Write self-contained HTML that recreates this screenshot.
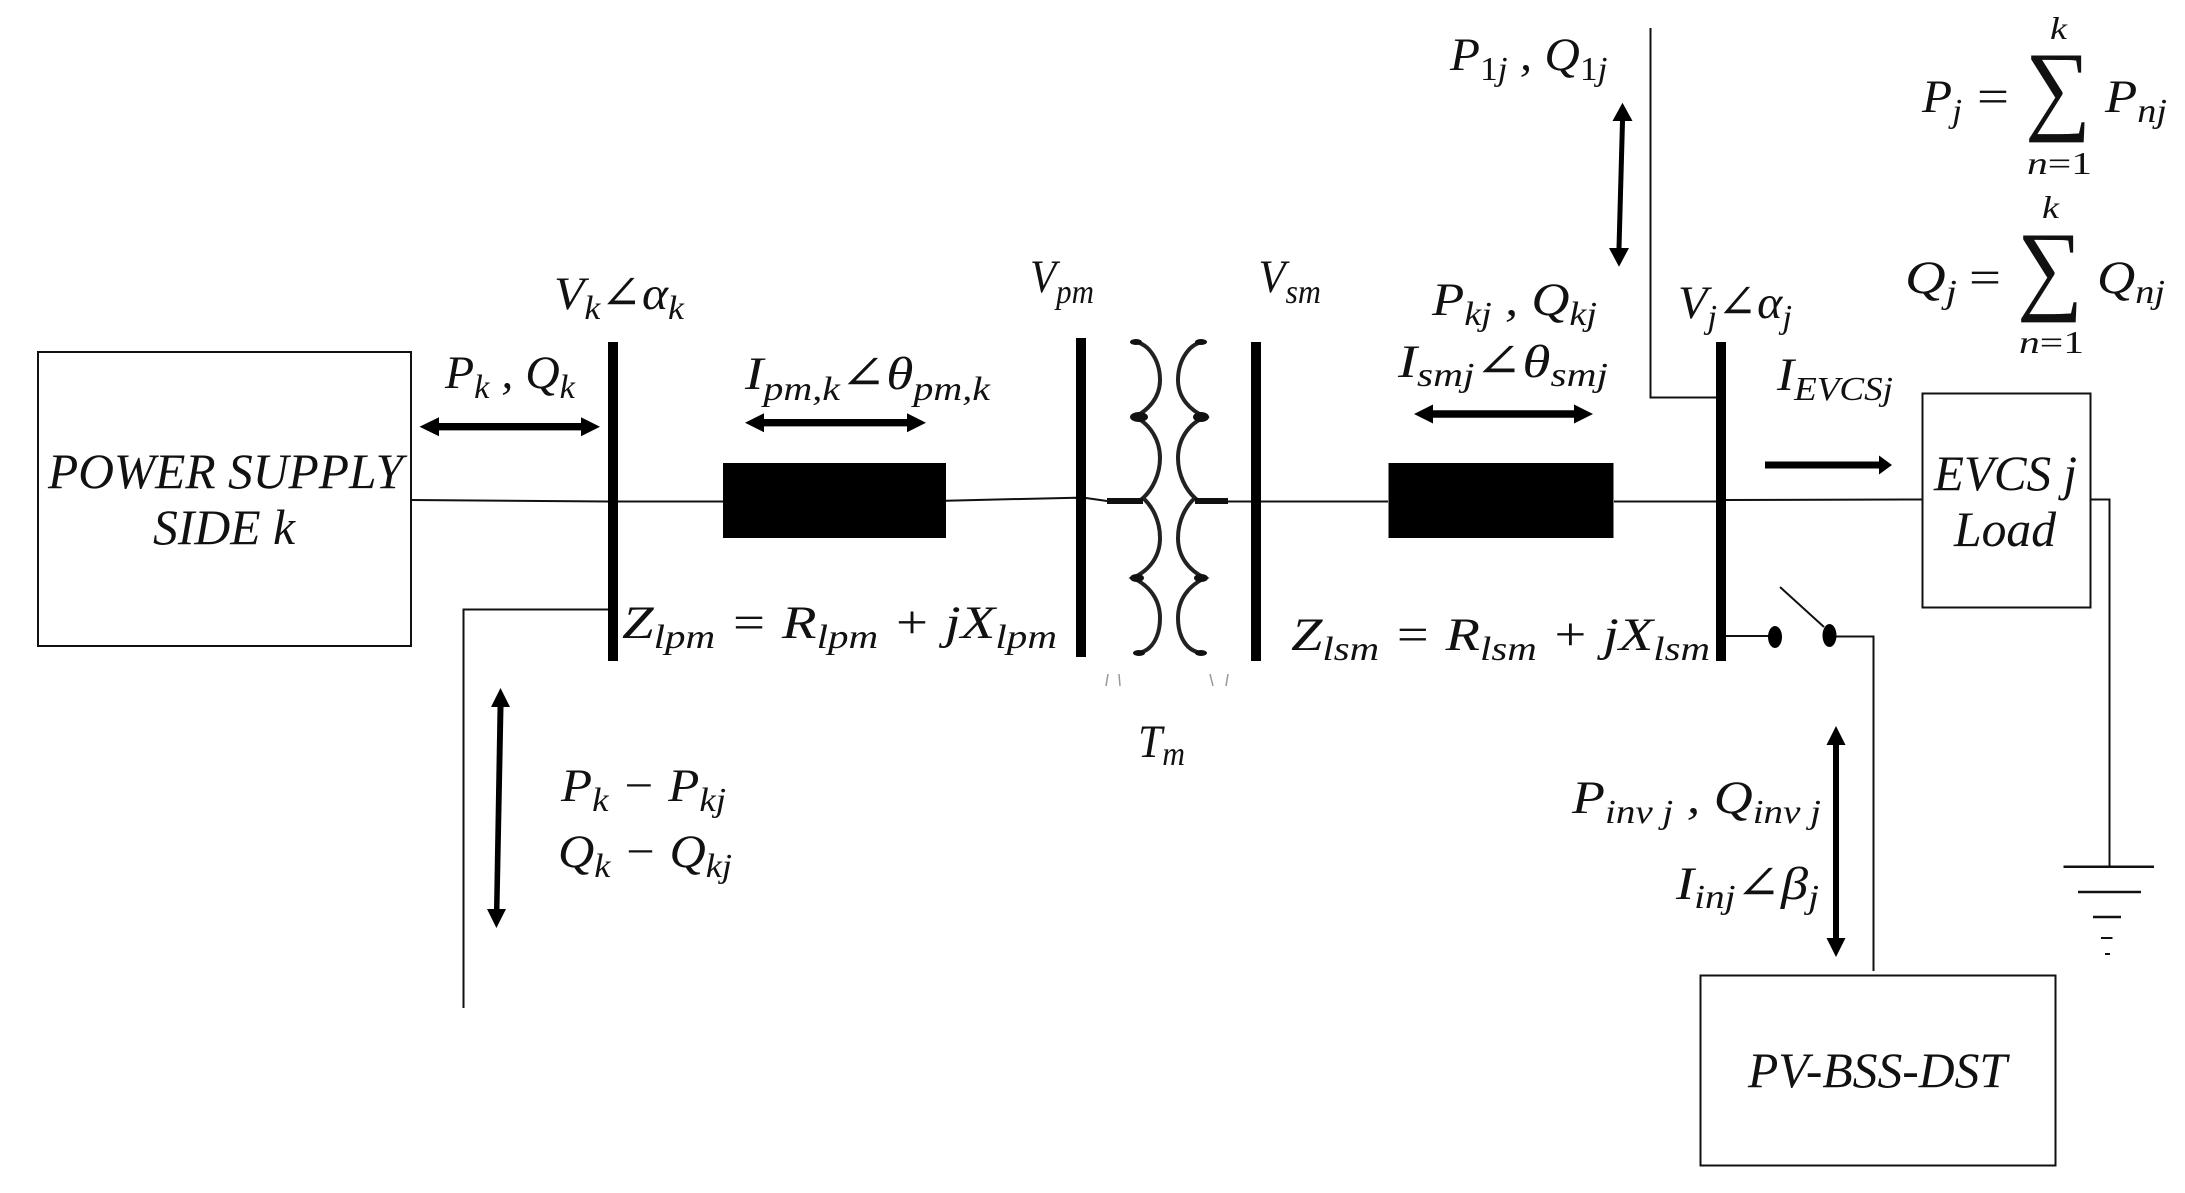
<!DOCTYPE html>
<html><head><meta charset="utf-8">
<style>
html,body{margin:0;padding:0;background:#fff;width:2185px;height:1193px;overflow:hidden}
svg{display:block}
text{font-family:"Liberation Serif","DejaVu Serif",serif;font-style:italic;font-size:47px;fill:#111}
.s{font-size:34px}
.n{font-style:normal}
.big{font-size:50px}
.lim{font-size:32px}
</style></head>
<body>
<svg width="2185" height="1193" viewBox="0 0 2185 1193" xmlns="http://www.w3.org/2000/svg">
<rect width="2185" height="1193" fill="#fff"/>
<!-- boxes -->
<g fill="none" stroke="#111" stroke-width="2">
<rect x="38" y="352" width="373" height="294"/>
<rect x="1922.5" y="393.5" width="168" height="214"/>
<rect x="1700.5" y="975.5" width="355" height="190"/>
</g>
<!-- wires -->
<g fill="none" stroke="#111" stroke-width="2">
<path d="M411 500 L608 501.5 L723 501.5"/>
<path d="M946 500.7 L1076 497.7 L1086 498 L1107 501"/>
<path d="M1228 501.5 L1388 501.5"/>
<path d="M1614 501.5 L1716 501.5 L1726 500 L1922 499.5"/>
<path d="M2090 499.5 H2109.5 V867"/>
<path d="M608 609.5 H463.5 V1008" />
<path d="M1716 397.5 H1650.5 V28" />
<path d="M1726 636 H1771"/>
<path d="M1829 636.5 H1873.5 V971"/>
<path d="M1780 587 L1824 627"/>
<path d="M2063.5 866.7 H2154" stroke-width="2.5"/>
<path d="M2078 892 H2141" stroke-width="2.5"/>
<path d="M2093 917 H2121" stroke-width="2.5"/>
<path d="M2101 938 H2112.5" stroke-width="2"/>
<path d="M2105 954 H2110" stroke-width="2"/>
</g>
<g fill="none" stroke="#999" stroke-width="1.5">
<path d="M1108 674 L1106 686 M1119 674 L1120 686 M1210 674 L1213 686 M1228 674 L1226 686"/>
</g>
<ellipse cx="1775" cy="637" rx="7" ry="11" fill="#000"/>
<ellipse cx="1829.5" cy="635.5" rx="7" ry="11.5" fill="#000"/>
<!-- buses -->
<g fill="#000">
<rect x="608" y="342" width="10" height="319"/>
<rect x="1076" y="338" width="10" height="319"/>
<rect x="1251" y="342" width="10" height="319"/>
<rect x="1716" y="342" width="10" height="319"/>
<rect x="723" y="463" width="223" height="75"/>
<rect x="1388.5" y="463" width="225" height="75"/>
</g>
<!-- transformer -->
<g fill="none" stroke="#222" stroke-width="4">
<path d="M1133 342 C1148 342 1160 360 1160 380 C1160 398 1148 410 1135 417 C1150 424 1160 440 1160 458 C1160 475 1152 490 1143 498 C1152 506 1160 520 1160 538 C1160 556 1150 570 1133 578 C1150 586 1160 600 1160 618 C1160 636 1152 652 1137 653"/>
<path d="M1205 342 C1190 342 1178 360 1178 380 C1178 398 1190 410 1205 417 C1188 424 1178 440 1178 458 C1178 475 1186 490 1195 498 C1186 506 1178 520 1178 538 C1178 556 1188 570 1205 578 C1188 586 1178 600 1178 618 C1178 636 1186 652 1203 653"/>
</g>
<g fill="#111">
<rect x="1107" y="498" width="36" height="6"/>
<rect x="1195" y="498" width="33" height="6"/>
<ellipse cx="1139" cy="417" rx="9" ry="5"/>
<ellipse cx="1201" cy="417" rx="8" ry="5"/>
<ellipse cx="1136" cy="342" rx="6" ry="3"/>
<ellipse cx="1201" cy="342" rx="6" ry="3"/>
<ellipse cx="1137" cy="578" rx="7" ry="4"/>
<ellipse cx="1201" cy="578" rx="7" ry="4"/>
<ellipse cx="1139" cy="653" rx="6" ry="3"/>
<ellipse cx="1201" cy="653" rx="6" ry="3"/>
</g>
<!-- arrows -->
<g fill="#000">
<path d="M419.5 426.7 L439 417.2 V423 H581 V417.2 L600 426.7 L581 436.2 V430.4 H439 V436.2 Z"/>
<path d="M745 422.7 L764 413.2 V419 H907 V413.2 L926 422.7 L907 432.2 V426.4 H764 V432.2 Z"/>
<path d="M1414 414 L1433 404.5 V410.3 H1574 V404.5 L1593 414 L1574 423.5 V417.7 H1433 V423.5 Z"/>
<path d="M1765 461.5 H1879 V455.5 L1892 465 L1879 474.5 V468.5 H1765 Z"/>
<path d="M500.5 688 L510 707 H503.5 L499.5 909 H506 L496.4 928 L487 909 H494 L497.5 707 H491 Z"/>
<path d="M1622.5 102.7 L1632.5 121 H1625 L1621.5 248 H1629 L1619 266.7 L1609 248 H1616.5 L1620 121 H1612.5 Z"/>
<path d="M1836 726 L1845.5 745 H1839 V938 H1845.5 L1836 957 L1826.5 938 H1833 V745 H1826.5 Z"/>
</g>
<!-- labels -->
<text x="48" y="488" class="big" textLength="355" lengthAdjust="spacingAndGlyphs">POWER SUPPLY</text>
<text x="153" y="544" class="big" textLength="142" lengthAdjust="spacingAndGlyphs">SIDE k</text>
<text x="1934" y="490" class="big" textLength="143" lengthAdjust="spacingAndGlyphs">EVCS j</text>
<text x="1954" y="546" class="big" textLength="102" lengthAdjust="spacingAndGlyphs">Load</text>
<text x="1748" y="1087" class="big" textLength="259" lengthAdjust="spacingAndGlyphs">PV-BSS-DST</text>

<text x="554" y="309" textLength="130" lengthAdjust="spacingAndGlyphs">V<tspan dy="10" class="s">k</tspan><tspan dy="-10">∠α</tspan><tspan dy="10" class="s">k</tspan></text>
<text x="445" y="388" textLength="130" lengthAdjust="spacingAndGlyphs">P<tspan dy="10" class="s">k</tspan><tspan dy="-10"> , Q</tspan><tspan dy="10" class="s">k</tspan></text>
<text x="745" y="389" textLength="245" lengthAdjust="spacingAndGlyphs">I<tspan dy="11" class="s">pm,k</tspan><tspan dy="-11">∠θ</tspan><tspan dy="11" class="s">pm,k</tspan></text>
<text x="1030" y="292" textLength="64" lengthAdjust="spacingAndGlyphs">V<tspan dy="11" class="s">pm</tspan></text>
<text x="1258.5" y="292" textLength="62.5" lengthAdjust="spacingAndGlyphs">V<tspan dy="11" class="s">sm</tspan></text>
<text x="622" y="638" textLength="435" lengthAdjust="spacingAndGlyphs">Z<tspan dy="10" class="s">lpm</tspan><tspan dy="-10"> = R</tspan><tspan dy="10" class="s">lpm</tspan><tspan dy="-10"> + jX</tspan><tspan dy="10" class="s">lpm</tspan></text>
<text x="1291" y="650" textLength="419" lengthAdjust="spacingAndGlyphs">Z<tspan dy="10" class="s">lsm</tspan><tspan dy="-10"> = R</tspan><tspan dy="10" class="s">lsm</tspan><tspan dy="-10"> + jX</tspan><tspan dy="10" class="s">lsm</tspan></text>
<text x="1432" y="315" textLength="165" lengthAdjust="spacingAndGlyphs">P<tspan dy="10" class="s">kj</tspan><tspan dy="-10"> , Q</tspan><tspan dy="10" class="s">kj</tspan></text>
<text x="1398" y="377" textLength="210" lengthAdjust="spacingAndGlyphs">I<tspan dy="9" class="s">smj</tspan><tspan dy="-9">∠θ</tspan><tspan dy="9" class="s">smj</tspan></text>
<text x="1678" y="318" textLength="114" lengthAdjust="spacingAndGlyphs">V<tspan dy="10" class="s">j</tspan><tspan dy="-10">∠α</tspan><tspan dy="10" class="s">j</tspan></text>
<text x="1777" y="390" textLength="116" lengthAdjust="spacingAndGlyphs">I<tspan dy="10" class="s">EVCSj</tspan></text>
<text x="561" y="801" textLength="165" lengthAdjust="spacingAndGlyphs">P<tspan dy="10" class="s">k</tspan><tspan dy="-10"> − P</tspan><tspan dy="10" class="s">kj</tspan></text>
<text x="558" y="867" textLength="174" lengthAdjust="spacingAndGlyphs">Q<tspan dy="10" class="s">k</tspan><tspan dy="-10"> − Q</tspan><tspan dy="10" class="s">kj</tspan></text>
<text x="1138" y="757" textLength="47" lengthAdjust="spacingAndGlyphs">T<tspan dy="8" class="s">m</tspan></text>
<text x="1572" y="813" textLength="249" lengthAdjust="spacingAndGlyphs">P<tspan dy="10" class="s">inv j</tspan><tspan dy="-10"> , Q</tspan><tspan dy="10" class="s">inv j</tspan></text>
<text x="1676" y="899" textLength="143" lengthAdjust="spacingAndGlyphs">I<tspan dy="9" class="s">inj</tspan><tspan dy="-9">∠β</tspan><tspan dy="9" class="s">j</tspan></text>
<text x="1450" y="70" textLength="157.5" lengthAdjust="spacingAndGlyphs">P<tspan dy="10" class="s n">1</tspan><tspan dy="0" class="s">j</tspan><tspan dy="-10"> , Q</tspan><tspan dy="10" class="s n">1</tspan><tspan dy="0" class="s">j</tspan></text>

<text x="1922" y="112" textLength="40" lengthAdjust="spacingAndGlyphs">P<tspan dy="10" class="s">j</tspan></text>
<text x="1977" y="112" class="n" textLength="32" lengthAdjust="spacingAndGlyphs">=</text>
<text x="2105" y="112" textLength="62" lengthAdjust="spacingAndGlyphs">P<tspan dy="10" class="s">nj</tspan></text>
<text x="2050" y="39" class="lim" textLength="17" lengthAdjust="spacingAndGlyphs">k</text>
<text x="2027" y="174" class="lim" textLength="65" lengthAdjust="spacingAndGlyphs">n<tspan class="n">=1</tspan></text>
<text transform="translate(2025 121) scale(1 1.25)" class="n" style="font-size:80px;font-style:normal" textLength="66" lengthAdjust="spacingAndGlyphs">∑</text>

<text x="1905" y="293" textLength="52" lengthAdjust="spacingAndGlyphs">Q<tspan dy="10" class="s">j</tspan></text>
<text x="1969" y="293" class="n" textLength="32" lengthAdjust="spacingAndGlyphs">=</text>
<text x="2097" y="293" textLength="68" lengthAdjust="spacingAndGlyphs">Q<tspan dy="10" class="s">nj</tspan></text>
<text x="2042" y="218" class="lim" textLength="17" lengthAdjust="spacingAndGlyphs">k</text>
<text x="2019" y="353" class="lim" textLength="65" lengthAdjust="spacingAndGlyphs">n<tspan class="n">=1</tspan></text>
<text transform="translate(2017 301) scale(1 1.25)" class="n" style="font-size:80px;font-style:normal" textLength="66" lengthAdjust="spacingAndGlyphs">∑</text>
</svg>
</body></html>
